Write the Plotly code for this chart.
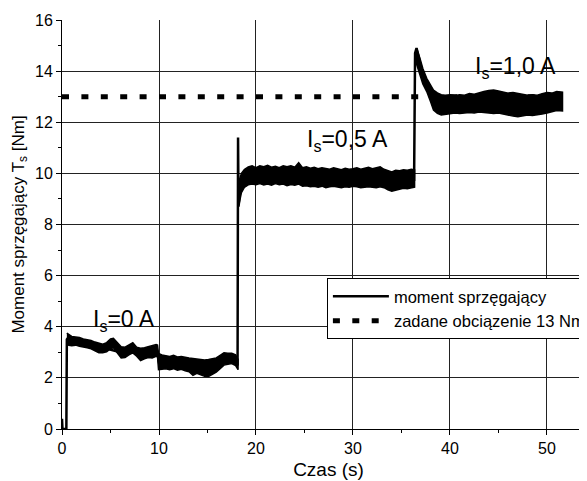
import plotly.graph_objects as go

# ---------------- data ----------------
# noisy torque band, I_s = 0 A  (time [s], upper edge, lower edge [Nm])
t_a = [0.50, 0.70, 1.0, 1.4, 1.8, 2.2, 2.6, 3.0, 3.4, 3.8, 4.2, 4.6, 5.0, 5.3, 5.7,
       6.1, 6.5, 6.9, 7.3, 7.7, 8.1, 8.5, 8.9, 9.3, 9.7, 9.85, 9.95, 10.3, 10.7, 11.1,
       11.5, 11.9, 12.3, 12.7, 13.1, 13.5, 13.9, 14.3, 14.7, 15.1, 15.5, 15.9, 16.3,
       16.7, 17.1, 17.5, 17.9, 18.15]
up_a = [3.75, 3.70, 3.62, 3.60, 3.58, 3.52, 3.50, 3.46, 3.40, 3.36, 3.32, 3.38, 3.52, 3.55, 3.40,
        3.22, 3.20, 3.28, 3.38, 3.20, 3.16, 3.18, 3.22, 3.26, 3.30, 3.28, 2.96, 2.90, 2.86, 2.84,
        2.88, 2.82, 2.84, 2.80, 2.78, 2.76, 2.74, 2.72, 2.70, 2.72, 2.74, 2.78, 2.88,
        2.98, 2.96, 2.96, 2.90, 2.72]
lo_a = [3.30, 3.28, 3.26, 3.28, 3.24, 3.20, 3.18, 3.14, 3.06, 2.98, 2.98, 3.02, 3.14, 3.18, 3.00,
        2.78, 2.80, 2.90, 2.98, 2.85, 2.68, 2.75, 2.80, 2.78, 2.84, 2.82, 2.32, 2.34, 2.36, 2.32,
        2.36, 2.30, 2.34, 2.28, 2.24, 2.10, 2.18, 2.12, 2.06, 2.05, 2.14, 2.22, 2.36,
        2.50, 2.54, 2.56, 2.48, 2.32]

# noisy torque band, I_s = 0,5 A
t_b = [18.25, 18.5, 18.8, 19.2, 19.6, 20.0, 20.4, 20.8, 21.2, 21.6, 22.0, 22.4, 22.8, 23.2,
       23.6, 24.0, 24.4, 24.8, 25.2, 25.6, 26.0, 26.4, 26.8, 27.2, 27.6, 28.0, 28.4, 28.8,
       29.2, 29.6, 30.0, 30.4, 30.8, 31.2, 31.6, 32.0, 32.4, 32.8, 33.2, 33.6, 34.0, 34.4,
       34.8, 35.2, 35.6, 36.0, 36.35]
up_b = [9.70, 10.00, 10.15, 10.25, 10.30, 10.22, 10.30, 10.26, 10.32, 10.24, 10.28, 10.22, 10.30, 10.26,
        10.30, 10.24, 10.42, 10.22, 10.26, 10.20, 10.24, 10.18, 10.22, 10.20, 10.16, 10.22, 10.18, 10.14,
        10.20, 10.16, 10.18, 10.22, 10.16, 10.20, 10.24, 10.18, 10.22, 10.26, 10.16, 10.10, 10.06, 10.12,
        10.10, 10.14, 10.12, 10.16, 10.14]
lo_b = [8.80, 9.25, 9.45, 9.55, 9.58, 9.56, 9.60, 9.55, 9.58, 9.54, 9.60, 9.56, 9.58, 9.52,
        9.56, 9.54, 9.58, 9.50, 9.52, 9.48, 9.50, 9.46, 9.50, 9.44, 9.48, 9.50, 9.46, 9.44,
        9.48, 9.46, 9.50, 9.48, 9.44, 9.46, 9.48, 9.46, 9.44, 9.48, 9.44, 9.36, 9.30, 9.32,
        9.38, 9.42, 9.40, 9.44, 9.46]

# noisy torque band, I_s = 1,0 A
t_c = [36.45, 36.6, 36.9, 37.2, 37.6, 38.0, 38.3, 38.7, 39.1, 39.5, 40.0, 40.5, 41.0, 41.5,
       42.0, 42.5, 43.0, 43.5, 44.0, 44.5, 45.0, 45.5, 46.0, 46.5, 47.0, 47.5, 48.0, 48.5,
       49.0, 49.5, 50.0, 50.5, 51.0, 51.6]
up_c = [14.80, 14.85, 14.50, 14.10, 13.72, 13.45, 13.26, 13.15, 13.08, 13.06, 13.08, 13.05, 13.08, 13.06,
        13.12, 13.10, 13.16, 13.20, 13.24, 13.26, 13.22, 13.18, 13.14, 13.16, 13.12, 13.10, 13.06, 13.08,
        13.06, 13.12, 13.16, 13.14, 13.20, 13.18]
lo_c = [14.40, 14.20, 13.85, 13.50, 13.20, 12.80, 12.48, 12.35, 12.28, 12.30, 12.34, 12.36, 12.34, 12.36,
        12.38, 12.36, 12.40, 12.38, 12.36, 12.34, 12.36, 12.32, 12.28, 12.24, 12.22, 12.24, 12.28, 12.26,
        12.28, 12.32, 12.36, 12.40, 12.46, 12.44]

# mean torque trace incl. switching transients
t_mid = [0.0, 0.05, 0.45, 0.50, 0.70, 3.0, 6.0, 9.8, 10.0, 14.0, 17.0, 18.10, 18.15, 18.20,
         18.40, 19.0, 25.0, 30.0, 36.30, 36.40, 36.55, 37.0, 37.6, 38.5, 45.0, 51.6]
v_mid = [0.4, 0.0, 0.0, 3.50, 3.60, 3.30, 3.00, 3.05, 2.60, 2.40, 2.75, 2.55, 11.40, 8.70,
         9.40, 9.90, 9.90, 9.85, 9.75, 14.70, 14.90, 14.20, 13.50, 12.70, 12.80, 12.80]

# set load 13 Nm
t_load = [0.0, 51.7]
v_load = [13.0, 13.0]

ann_text = ["I<sub>s</sub>=0 A", "I<sub>s</sub>=0,5 A", "I<sub>s</sub>=1,0 A"]
ann_t = [3.0, 25.1, 42.4]
ann_v = [4.25, 11.3, 14.15]

x_ticks = [0, 10, 20, 30, 40, 50]
y_ticks = [0, 2, 4, 6, 8, 10, 12, 14, 16]

# ---------------- figure ----------------
FONT = "Liberation Sans, Arial, sans-serif"
fig = go.Figure()

for tt, up, lo in [(t_a, up_a, lo_a), (t_b, up_b, lo_b), (t_c, up_c, lo_c)]:
    fig.add_trace(go.Scatter(
        x=tt + tt[::-1], y=up + lo[::-1], mode="lines", fill="toself",
        fillcolor="black", line=dict(color="black", width=1.5),
        showlegend=False, hoverinfo="skip"))

fig.add_trace(go.Scatter(
    x=t_mid, y=v_mid, mode="lines", name="moment sprzęgający",
    line=dict(color="black", width=2.5)))

fig.add_trace(go.Scatter(
    x=t_load, y=v_load, mode="lines", name="zadane obciązenie 13 Nm",
    line=dict(color="black", width=5, dash="7px,12.4px")))

for txt, xa, ya in zip(ann_text, ann_t, ann_v):
    fig.add_annotation(x=xa, y=ya, text=txt, showarrow=False, xanchor="left",
                       yanchor="middle", font=dict(family=FONT, size=23, color="black"))

axis_common = dict(
    showline=True, linecolor="black", linewidth=1,
    showgrid=True, gridcolor="#222", gridwidth=1,
    ticks="outside", ticklen=5, tickcolor="black", tickwidth=1,
    zeroline=False,
    tickfont=dict(family=FONT, size=16, color="black"),
)

# the page has an 8 px body margin, so the figure is offset by (8, 8)
fig.update_xaxes(
    range=[0, 54.95], tickvals=x_ticks, **axis_common,
    minor=dict(dtick=5, tick0=0, ticks="outside", ticklen=3, tickcolor="black", showgrid=False),
    title=dict(text="Czas (s)", font=dict(family=FONT, size=19, color="black"), standoff=6),
)
fig.update_yaxes(
    range=[0, 16], tickvals=y_ticks, **axis_common,
    minor=dict(dtick=1, tick0=0, ticks="outside", ticklen=3, tickcolor="black", showgrid=False),
    title=dict(text="Moment sprzęgający T<sub>s</sub> [Nm]",
               font=dict(family=FONT, size=17, color="black"), standoff=6),
)

fig.update_layout(
    width=587, height=481,
    margin=dict(l=54, r=0, t=12, b=60, autoexpand=False),
    paper_bgcolor="white", plot_bgcolor="white",
    font=dict(family=FONT, color="black"),
    showlegend=True,
    legend=dict(x=0.497, y=0.369, xanchor="left", yanchor="top",
                bgcolor="white", bordercolor="black", borderwidth=1,
                font=dict(family=FONT, size=16.5, color="black"),
                tracegroupgap=0, itemwidth=56),
    hovermode=False,
)

fig.write_html("out.html")
